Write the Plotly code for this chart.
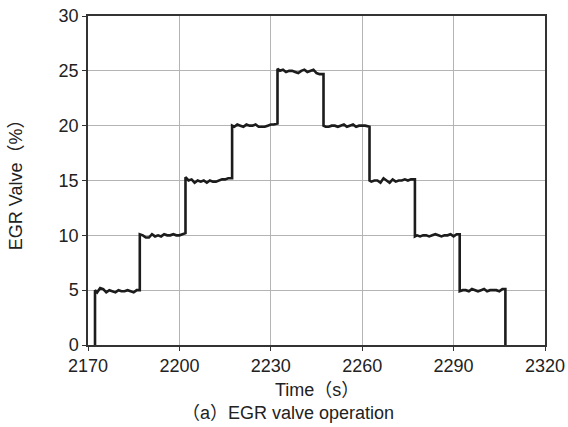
import plotly.graph_objects as go

# Time samples (s) and EGR valve opening (%)
time_s = [2172.3, 2172.3, 2173, 2174, 2175, 2176, 2177, 2178, 2179, 2180, 2181, 2182, 2183, 2184, 2185, 2186, 2187,
          2187, 2188, 2189, 2190, 2191, 2192, 2193, 2194, 2195, 2196, 2197, 2198, 2199, 2200, 2201, 2202,
          2202, 2203, 2204, 2205, 2206, 2207, 2208, 2209, 2210, 2211, 2212, 2213, 2214, 2215, 2216, 2217.3,
          2217.3, 2218, 2219, 2220, 2221, 2222, 2223, 2224, 2225, 2226, 2227, 2228, 2229, 2230, 2231, 2232.2,
          2232.2, 2233, 2234, 2235, 2236, 2237, 2238, 2239, 2240, 2241, 2242, 2243, 2244, 2245, 2246, 2247.3,
          2247.3, 2248, 2249, 2250, 2251, 2252, 2253, 2254, 2255, 2256, 2257, 2258, 2259, 2260, 2261, 2262.4,
          2262.4, 2263, 2264, 2265, 2266, 2267, 2268, 2269, 2270, 2271, 2272, 2273, 2274, 2275, 2276, 2277.3,
          2277.3, 2278, 2279, 2280, 2281, 2282, 2283, 2284, 2285, 2286, 2287, 2288, 2289, 2290, 2291, 2292,
          2292, 2293, 2294, 2295, 2296, 2297, 2298, 2299, 2300, 2301, 2302, 2303, 2304, 2305, 2306, 2307,
          2307]
valve_pct = [0.0, 5.0, 4.8, 5.2, 5.1, 4.8, 5.0, 4.9, 4.8, 5.0, 4.9, 4.9, 5.0, 4.9, 4.8, 5.0, 5.0,
             10.1, 10.0, 9.8, 9.8, 10.1, 9.9, 10.0, 9.9, 10.1, 10.0, 10.0, 10.1, 10.0, 10.0, 10.1, 10.2,
             15.3, 15.0, 15.1, 14.8, 15.0, 14.9, 15.0, 14.8, 15.0, 14.9, 14.9, 15.0, 15.1, 15.1, 15.2, 15.2,
             20.0, 19.9, 20.1, 20.0, 19.9, 20.1, 20.0, 20.0, 20.1, 19.9, 19.9, 19.9, 20.0, 20.1, 20.1, 20.2,
             25.2, 25.0, 25.1, 24.9, 25.0, 25.0, 24.9, 24.8, 25.0, 25.1, 24.9, 25.0, 25.1, 24.8, 24.7, 24.7,
             20.0, 19.9, 19.9, 20.0, 20.0, 19.9, 20.0, 20.1, 19.9, 20.0, 20.1, 19.9, 20.0, 20.0, 20.0, 19.9,
             15.0, 14.9, 15.0, 15.0, 14.8, 15.2, 15.0, 14.8, 15.1, 14.9, 15.0, 15.0, 15.1, 15.0, 15.1, 15.1,
             9.9, 10.0, 9.9, 10.0, 10.0, 9.9, 10.0, 10.1, 10.0, 9.9, 10.0, 10.0, 10.1, 9.9, 10.1, 10.1,
             4.9, 5.0, 5.0, 4.9, 5.1, 5.0, 4.9, 5.0, 5.1, 4.9, 5.0, 5.0, 5.0, 4.9, 5.1, 5.1,
             0.0]

x_ticks = [2170, 2200, 2230, 2260, 2290, 2320]
y_ticks = [0, 5, 10, 15, 20, 25, 30]

FONT = "Liberation Sans, Arial, Noto Sans CJK JP, sans-serif"
TXT = "#222222"

fig = go.Figure()
fig.add_trace(go.Scatter(x=time_s, y=valve_pct, mode="lines",
                         line=dict(color="#1c1c1c", width=2.6), showlegend=False,
                         hoverinfo="skip"))

axis_common = dict(showgrid=True, gridcolor="#b4b4b4", gridwidth=1,
                   showline=True, linecolor="#333", linewidth=1.5, mirror=True,
                   ticks="outside", ticklen=4, tickcolor="#333", tickwidth=1.2,
                   tickfont=dict(size=18, color=TXT), zeroline=False, automargin=False)

fig.update_layout(
    width=568, height=427,
    margin=dict(l=88, r=23, t=16, b=82),
    paper_bgcolor="white", plot_bgcolor="white",
    font=dict(family=FONT, size=18, color=TXT),
    xaxis=dict(range=[2170, 2320], tickvals=x_ticks, ticktext=[str(v) for v in x_ticks], **axis_common),
    yaxis=dict(range=[0, 30], tickvals=y_ticks, **axis_common),
    annotations=[
        dict(text="Time（s）", xref="paper", yref="paper", x=0.5, y=-0.137,
             xanchor="center", yanchor="middle", showarrow=False, font=dict(size=18)),
        dict(text="EGR Valve（%）", xref="paper", yref="paper", x=-0.158, y=0.5,
             xanchor="center", yanchor="middle", textangle=-90, showarrow=False, font=dict(size=18)),
        dict(text="（a）EGR valve operation", xref="paper", yref="paper", x=0.4376, y=-0.2067,
             xanchor="center", yanchor="middle", showarrow=False, font=dict(size=18)),
    ],
)

fig.write_html("out.html",
               config={"displayModeBar": False},
               post_script="document.documentElement.style.margin='0';"
                           "document.body.style.margin='0';document.body.style.overflow='hidden';")
